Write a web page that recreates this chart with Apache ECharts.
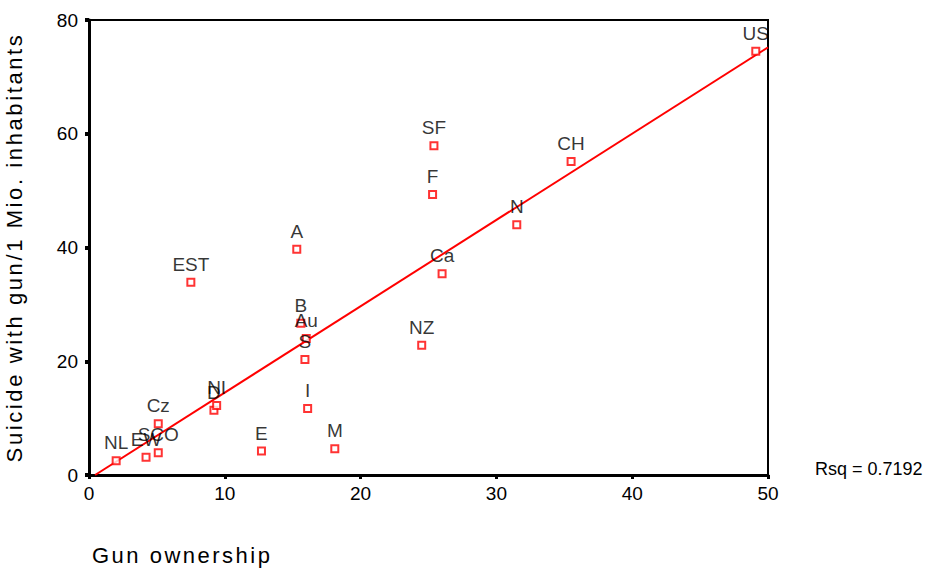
<!DOCTYPE html>
<html>
<head>
<meta charset="utf-8">
<script src="https://cdn.jsdelivr.net/npm/echarts@6/dist/echarts.min.js"></script>
<style>
  html, body { margin: 0; padding: 0; background: #fff; }
  #chart { width: 939px; height: 570px; }
</style>
</head>
<body>
<div id="chart"></div>
<script>
// countries (labels as printed on the plot)
var countries = ['NL', 'EW', 'SCO', 'Cz', 'D', 'NI', 'E', 'I', 'M', 'EST', 'A',
    'B', 'Au', 'S', 'NZ', 'Ca', 'F', 'SF', 'N', 'CH', 'US'];
// gun ownership (%)
var gunOwnership = [2.0, 4.2, 5.1, 5.1, 9.2, 9.4, 12.7, 16.1, 18.1, 7.5, 15.3,
    15.6, 16.0, 15.9, 24.5, 26.0, 25.3, 25.4, 31.5, 35.5, 49.1];
// suicide with gun per 1 Mio. inhabitants
var gunSuicide = [2.5, 3.1, 3.9, 9.0, 11.4, 12.2, 4.2, 11.7, 4.6, 33.9, 39.7,
    26.7, 24.0, 20.3, 22.8, 35.4, 49.3, 57.9, 44.0, 55.1, 74.5];
// fitted regression line (end points)
var fitX = [0.45, 50];
var fitY = [0, 75.2];
var rsq = '0.7192';

var xTicks = { min: 0, max: 50, interval: 10 };
var yTicks = { min: 0, max: 80, interval: 20 };

var xName = 'Gun ownership';
var yName = 'Suicide with gun/1 Mio. inhabitants';

var points = [];
for (var i = 0; i < countries.length; i++) {
    points.push([gunOwnership[i], gunSuicide[i], countries[i]]);
}
var fitLine = [];
for (var j = 0; j < fitX.length; j++) {
    fitLine.push([fitX[j], fitY[j]]);
}

var font = '"Liberation Sans", Arial, sans-serif';
var chart = echarts.init(document.getElementById('chart'), null, { renderer: 'svg' });

var option = {
    backgroundColor: '#fff',
    animation: false,
    textStyle: { fontFamily: font },
    grid: {
        left: 89, right: 171, top: 20, bottom: 95,
        outerBoundsMode: 'none',
        show: true, borderColor: '#000', borderWidth: 2
    },
    xAxis: {
        type: 'value',
        min: xTicks.min, max: xTicks.max, interval: xTicks.interval,
        name: xName,
        nameLocation: 'start',
        nameGap: -3,
        nameTextStyle: {
            fontSize: 22, color: '#000', fontFamily: font,
            align: 'left', verticalAlign: 'top', padding: [69, 0, 0, 0]
        },
        axisLine: { lineStyle: { color: '#000', width: 3 } },
        axisTick: { show: true, length: 4, lineStyle: { color: '#000', width: 3 } },
        axisLabel: { fontSize: 19, color: '#000', margin: 9, fontFamily: font },
        splitLine: { show: false }
    },
    yAxis: {
        type: 'value',
        min: yTicks.min, max: yTicks.max, interval: yTicks.interval,
        name: yName,
        nameLocation: 'middle',
        nameGap: 64,
        nameTextStyle: { fontSize: 22, color: '#000', fontFamily: font },
        axisLine: { show: true, lineStyle: { color: '#000', width: 3 } },
        axisTick: { show: true, length: 4, lineStyle: { color: '#000', width: 4 } },
        axisLabel: { fontSize: 19, color: '#000', margin: 11, fontFamily: font },
        splitLine: { show: false }
    },
    series: [
        {
            type: 'line',
            data: fitLine,
            showSymbol: false,
            lineStyle: { color: '#ff0000', width: 2 },
            z: 2
        },
        {
            type: 'scatter',
            data: points,
            symbol: 'rect',
            symbolSize: 7,
            itemStyle: { color: '#fff', borderColor: '#ff0000', borderWidth: 2 },
            label: {
                show: true,
                position: 'top',
                distance: 4,
                fontSize: 19,
                color: '#000',
                fontFamily: font,
                formatter: function (p) { return p.data[2]; }
            },
            labelLayout: { hideOverlap: false },
            z: 3
        }
    ],
    graphic: [
        {
            type: 'text',
            left: 815,
            top: 460,
            style: { text: 'Rsq = ' + rsq, fill: '#000', font: '18px ' + font }
        }
    ]
};

chart.setOption(option);

// the original axis titles are set with wide letter spacing
function spaceNames() {
    var texts = document.querySelectorAll('#chart svg text');
    for (var k = 0; k < texts.length; k++) {
        var t = texts[k].textContent;
        if (t === yName) texts[k].style.letterSpacing = '2.6px';
        if (t === xName) texts[k].style.letterSpacing = '2.5px';
    }
}
chart.getZr().flush();
spaceNames();
chart.on('finished', spaceNames);
</script>
</body>
</html>
